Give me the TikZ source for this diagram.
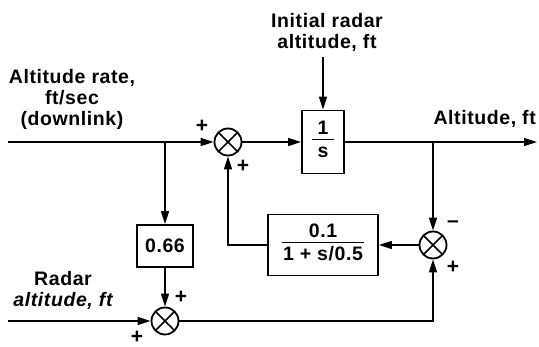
\documentclass[tikz,border=0pt]{standalone}
\usepackage{fontspec}
\setmainfont{Liberation Sans}[LetterSpace=3]
\usepackage{tikz}
\usetikzlibrary{arrows.meta,positioning,calc}

\newcommand{\frc}[3][1pt]{\begin{tabular}{@{\hspace{#1}}c@{\hspace{#1}}}#2\\[-2pt]\hline\rule{0pt}{18pt}#3\end{tabular}}

\begin{document}
\begin{tikzpicture}[
x=1pt, y=-1pt,
font=\fontsize{19.5}{21}\selectfont\bfseries,
block/.style={draw, line width=1.8pt, inner sep=0pt},
sumjunc/.style={draw, circle, line width=1.8pt, minimum size=27pt, inner sep=0pt,
  path picture={\draw[line width=1.5pt] (path picture bounding box.north west) -- (path picture bounding box.south east)
    (path picture bounding box.north east) -- (path picture bounding box.south west);}},
arrow/.style={-{Triangle[length=13pt,width=8pt]}, line width=1.4pt},
sgn/.style={inner sep=0pt, font=\fontsize{21}{22}\selectfont\bfseries}
]
\useasboundingbox (0,0) rectangle (539,347);
% blocks
\node[sumjunc] (sum1) at (228,142) {};
\node[block, minimum width=42pt, minimum height=63pt] (integ) at (323,142) {\frc[6pt]{1}{s}};
\node[block, minimum width=110pt, minimum height=61pt] (lag) at (323,245) {\frc{0.1}{1 + s/0.5}};
\node[sumjunc] (sum3) at (433,245) {};
\node[block, minimum width=56pt, minimum height=42pt] (gain) at (165,246) {0.66};
\node[sumjunc] (sum2) at (165,321) {};
% free ends and taps
\coordinate (ratein) at (8,142);
\coordinate (radarin) at (8,321);
\coordinate (initin) at (323,57);
\coordinate (out) at (537,142);
\coordinate (tap1) at (165,142);
\coordinate (tap2) at (433,142);
% labels
\node[align=center] (ratelbl) at (72,99) {Altitude rate,\\ft/sec\\(downlink)};
\node[align=center] (initlbl) at (327,32) {Initial radar\\altitude, ft};
\node[anchor=west] (altlbl) at (430,119) {Altitude, ft};
\node[align=center] (radarlbl) at (63,290) {Radar\\\itshape altitude, ft};
% signs
\node[sgn] (s1a) at (202,126) {+};
\node[sgn] (s1b) at (243,166) {+};
\node[sgn] (s2a) at (181,297) {+};
\node[sgn] (s2b) at (137,337) {+};
\node[sgn] (s3a) at (453,224) {--};
\node[sgn] (s3b) at (453,267) {+};
% connectors
\draw[arrow] (ratein) -- (sum1.west);
\draw[arrow] (sum1.east) -- (integ.west);
\draw[arrow] (initin) -- (integ.north);
\draw[arrow] (integ.east) -- (out);
\draw[arrow] (tap1) -- (gain.north);
\draw[arrow] (gain.south) -- (sum2.north);
\draw[arrow] (radarin) -- (sum2.west);
\draw[arrow] (sum2.east) -| (sum3.south);
\draw[arrow] (tap2) -- (sum3.north);
\draw[arrow] (sum3.west) -- (lag.east);
\draw[arrow] (lag.west) -| (sum1.south);
\end{tikzpicture}
\end{document}
